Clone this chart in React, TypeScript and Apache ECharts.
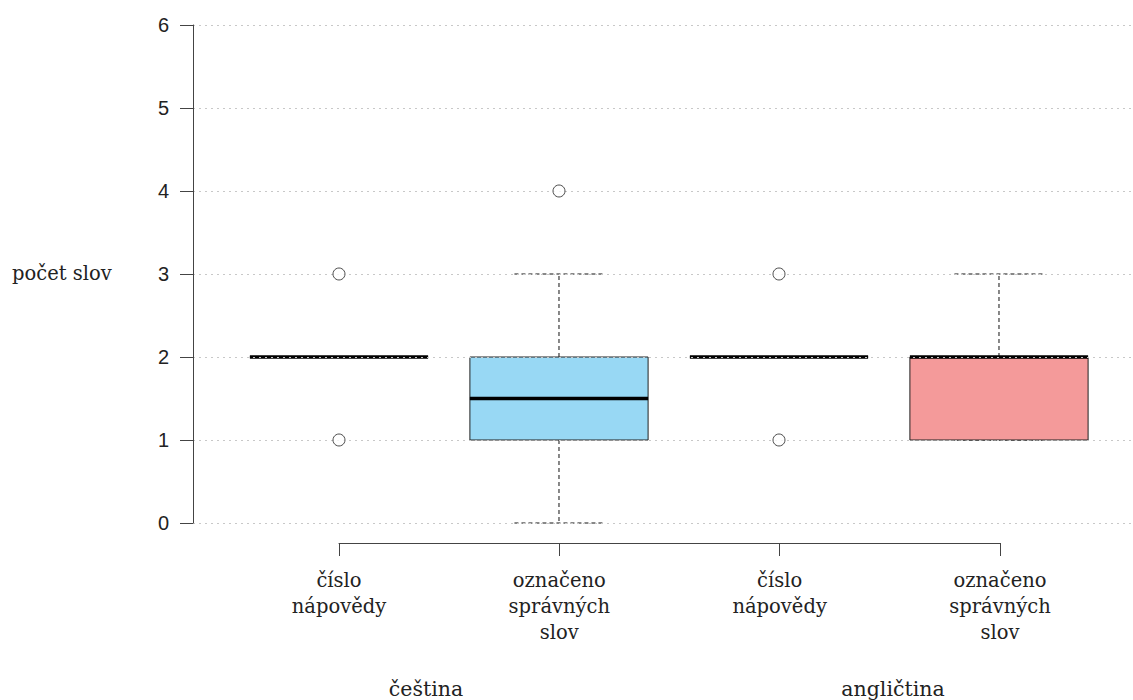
import React, { useEffect, useRef } from "react";
import * as echarts from "echarts";

// ---- data ----
const categories = [
  "číslo\nnápovědy",
  "označeno\nsprávných\nslov",
  "číslo\nnápovědy",
  "označeno\nsprávných\nslov",
];
const groupLabels = ["čeština", "angličtina"];
// [position, lower whisker, Q1, median, Q3, upper whisker]
const boxStats = [
  [1, 2, 2, 2, 2, 2],
  [2, 0, 1, 1.5, 2, 3],
  [3, 2, 2, 2, 2, 2],
  [4, 1, 1, 2, 2, 3],
];
// [position, value]
const outliers = [
  [1, 3],
  [1, 1],
  [2, 4],
  [3, 3],
  [3, 1],
];
const boxColors = ["#ffffff", "#98D8F4", "#ffffff", "#F49A9A"];
const yMin = 0;
const yMax = 6;
const yInterval = 1;
const yLabel = "počet slov";

const SERIF = "DejaVu Serif";
const SANS = "Liberation Sans";

export default function App() {
  const ref = useRef<HTMLDivElement>(null);

  useEffect(() => {
    document.body.style.margin = "0";
    if (!ref.current) return;
    const chart = echarts.init(ref.current, undefined, { renderer: "svg" });

    const boxHalf = 0.405;

    const option: any = {
      animation: false,
      backgroundColor: "#ffffff",
      grid: [
        { left: 193, right: 0, top: 25, height: 498 },
        { left: 339, width: 661, top: 542, height: 1 },
      ],
      xAxis: [
        {
          gridIndex: 0,
          type: "value",
          min: 0.3364,
          max: 4.6091,
          show: false,
        },
        {
          gridIndex: 1,
          type: "value",
          min: 1,
          max: 4,
          interval: 1,
          position: "bottom",
          axisLine: { show: true, lineStyle: { color: "#444", width: 1 } },
          axisTick: { show: true, length: 13, lineStyle: { color: "#444" } },
          splitLine: { show: false },
          axisLabel: {
            show: true,
            margin: 24,
            fontFamily: SERIF,
            fontSize: 19.5,
            lineHeight: 26,
            color: "#222",
            verticalAlign: "top",
            showMinLabel: true,
            showMaxLabel: true,
            formatter: (v: number) => categories[Math.round(v) - 1] ?? "",
          },
        },
      ],
      yAxis: [
        {
          gridIndex: 0,
          type: "value",
          min: yMin,
          max: yMax,
          interval: yInterval,
          z: 3,
          axisLine: { show: true, lineStyle: { color: "#444", width: 1 } },
          axisTick: { show: true, length: 13, lineStyle: { color: "#444" } },
          axisLabel: {
            margin: 24,
            fontFamily: SANS,
            fontSize: 20,
            color: "#222",
          },
          splitLine: {
            show: true,
            lineStyle: { color: "#c8c8c8", width: 1, type: [2, 4] },
          },
        },
        { gridIndex: 1, type: "value", show: false },
      ],
      series: [
        {
          type: "custom",
          xAxisIndex: 0,
          yAxisIndex: 0,
          z: 2,
          data: boxStats,
          encode: { x: 0, y: [1, 2, 3, 4, 5] },
          renderItem: (params: any, api: any) => {
            const x = api.value(0);
            const lo = api.value(1);
            const q1 = api.value(2);
            const med = api.value(3);
            const q3 = api.value(4);
            const hi = api.value(5);
            const hw = api.size([boxHalf, 0])[0];
            const pLo = api.coord([x, lo]);
            const pQ1 = api.coord([x, q1]);
            const pMed = api.coord([x, med]);
            const pQ3 = api.coord([x, q3]);
            const pHi = api.coord([x, hi]);
            const cx = pLo[0];
            const dash = [4, 3];
            const stroke = "#111";
            const children: any[] = [];
            if (pHi[1] < pQ3[1]) {
              children.push({
                type: "line",
                shape: { x1: cx, y1: pQ3[1], x2: cx, y2: pHi[1] },
                style: { stroke, lineWidth: 1, lineDash: dash },
              });
            }
            if (pLo[1] > pQ1[1]) {
              children.push({
                type: "line",
                shape: { x1: cx, y1: pQ1[1], x2: cx, y2: pLo[1] },
                style: { stroke, lineWidth: 1, lineDash: dash },
              });
            }
            children.push({
              type: "line",
              shape: { x1: cx - hw / 2, y1: pHi[1], x2: cx + hw / 2, y2: pHi[1] },
              style: { stroke, lineWidth: 1, lineDash: dash },
            });
            children.push({
              type: "line",
              shape: { x1: cx - hw / 2, y1: pLo[1], x2: cx + hw / 2, y2: pLo[1] },
              style: { stroke, lineWidth: 1, lineDash: dash },
            });
            children.push({
              type: "rect",
              shape: {
                x: cx - hw,
                y: pQ3[1],
                width: hw * 2,
                height: pQ1[1] - pQ3[1],
              },
              style: {
                fill: boxColors[params.dataIndex],
                stroke: "#222",
                lineWidth: 1,
              },
            });
            children.push({
              type: "line",
              shape: { x1: cx - hw, y1: pMed[1], x2: cx + hw, y2: pMed[1] },
              style: { stroke: "#000", lineWidth: 3.5 },
            });
            return { type: "group", children };
          },
        },
        {
          type: "scatter",
          xAxisIndex: 0,
          yAxisIndex: 0,
          z: 5,
          data: outliers,
          symbol: "circle",
          symbolSize: 12,
          itemStyle: { color: "#ffffff", borderColor: "#222", borderWidth: 1 },
        },
      ],
      graphic: [
        {
          type: "text",
          left: 12,
          top: 263,
          style: { text: yLabel, font: `19.5px '${SERIF}'`, fill: "#222" },
        },
        {
          type: "text",
          x: 426,
          y: 689,
          style: {
            text: groupLabels[0],
            font: `20.5px '${SERIF}'`,
            fill: "#222",
            align: "center",
            verticalAlign: "middle",
          },
        },
        {
          type: "text",
          x: 893,
          y: 689,
          style: {
            text: groupLabels[1],
            font: `20.5px '${SERIF}'`,
            fill: "#222",
            align: "center",
            verticalAlign: "middle",
          },
        },
      ],
    };

    chart.setOption(option);
    return () => chart.dispose();
  }, []);

  return <div ref={ref} style={{ width: 1133, height: 700 }} />;
}
